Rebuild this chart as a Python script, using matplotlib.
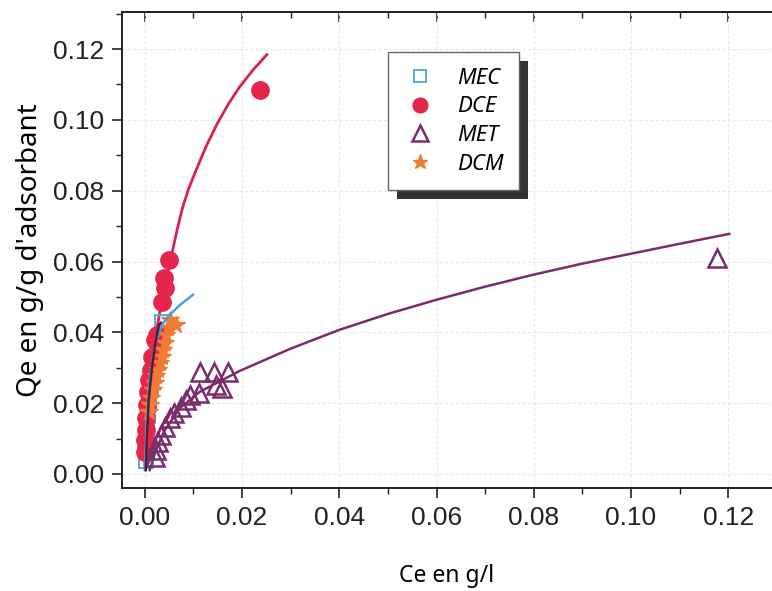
import matplotlib
matplotlib.use("Agg")
import matplotlib.pyplot as plt
from matplotlib.patches import Rectangle
from matplotlib.ticker import MultipleLocator

# MEC : carres bleus
mec_x = [0.0002, 0.0003, 0.0005, 0.0007, 0.0009, 0.0012, 0.0016, 0.0020, 0.0026, 0.0035]
mec_y = [0.0037, 0.0080, 0.0125, 0.0165, 0.0200, 0.0246, 0.0280, 0.0320, 0.0370, 0.0430]

# DCE : cercles rouges
dce_x = [0.0237, 0.0049, 0.0039, 0.0041, 0.0035, 0.0025, 0.0021, 0.0014, 0.0012, 0.0008,
         0.0006, 0.0004, 0.0002, 0.0002, 0.0000, 0.0002, 0.0000]
dce_y = [0.1085, 0.0605, 0.0554, 0.0525, 0.0486, 0.0393, 0.0379, 0.0331, 0.0294, 0.0266,
         0.0232, 0.0195, 0.0158, 0.0124, 0.0096, 0.0073, 0.0062]

# MET : triangles violets
met_x = [0.1177, 0.0171, 0.0142, 0.0113, 0.0158, 0.0146, 0.0111, 0.0093, 0.0084, 0.0074,
         0.0060, 0.0051, 0.0041, 0.0033, 0.0027, 0.0023, 0.0021]
met_y = [0.0610, 0.0288, 0.0288, 0.0288, 0.0243, 0.0251, 0.0229, 0.0223, 0.0209, 0.0189,
         0.0172, 0.0158, 0.0133, 0.0110, 0.0090, 0.0068, 0.0048]

# DCM : etoiles orange
dcm_x = [0.0064, 0.0051, 0.0047, 0.0043, 0.0041, 0.0037, 0.0035, 0.0031, 0.0027, 0.0023,
         0.0021, 0.0016, 0.0012, 0.0010, 0.0008]
dcm_y = [0.0420, 0.0435, 0.0412, 0.0393, 0.0370, 0.0350, 0.0331, 0.0314, 0.0294, 0.0277,
         0.0257, 0.0237, 0.0215, 0.0195, 0.0175]

# courbes de modele
dce_fit_x = [0.0000, 0.0002, 0.0006, 0.0014, 0.0031, 0.0044, 0.0056, 0.0067, 0.0078, 0.0090,
             0.0103, 0.0126, 0.0150, 0.0172, 0.0195, 0.0222, 0.0251]
dce_fit_y = [0.0025, 0.0096, 0.0210, 0.0320, 0.0460, 0.0548, 0.0624, 0.0693, 0.0754, 0.0805,
             0.0850, 0.0925, 0.0992, 0.1045, 0.1093, 0.1140, 0.1184]

mec_fit_x = [0.0000, 0.0004, 0.0010, 0.0021, 0.0035, 0.0051, 0.0072, 0.0099]
mec_fit_y = [0.0011, 0.0153, 0.0266, 0.0364, 0.0421, 0.0449, 0.0477, 0.0506]

met_fit_x = [0.0010, 0.0023, 0.0041, 0.0072, 0.0113, 0.0195, 0.0300, 0.0400, 0.0500, 0.0600,
             0.0700, 0.0800, 0.0900, 0.1000, 0.1100, 0.1202]
met_fit_y = [0.0011, 0.0068, 0.0124, 0.0186, 0.0232, 0.0291, 0.0354, 0.0407, 0.0452, 0.0492,
             0.0529, 0.0563, 0.0594, 0.0622, 0.0650, 0.0678]

dcm_fit_x = [0.0002, 0.0004, 0.0008, 0.0014, 0.0021, 0.0029, 0.0033]
dcm_fit_y = [0.0011, 0.0096, 0.0209, 0.0294, 0.0364, 0.0421, 0.0427]

c_mec = '#5aa8e2'
c_dce = '#e4264c'
c_met = '#7a2c6c'
c_dcm = '#f27a34'

fig = plt.figure(figsize=(7.72, 5.91), dpi=100)
ax = fig.add_axes([0.158, 0.174, 0.842, 0.806])

ax.grid(True, color='0.91', lw=0.8, ls=(0, (3, 2)), zorder=0)

ax.plot(mec_x, mec_y, 's', ms=9.5, mfc='none', mec=c_mec, mew=1.4, label='MEC', zorder=3)
ax.plot(dce_x, dce_y, 'o', ms=12.5, color=c_dce, mec=c_dce, label='DCE', zorder=3)
ax.plot(dcm_x, dcm_y, '*', ms=13, color=c_dcm, mec=c_dcm, label='DCM', zorder=3)
ax.plot(met_x, met_y, '^', ms=13, mfc='none', mec=c_met, mew=1.8, label='MET', zorder=4)

ax.plot(dce_fit_x, dce_fit_y, '-', color='#d8234f', lw=2, zorder=2)
ax.plot(mec_fit_x, mec_fit_y, '-', color='#4d9fe0', lw=1.8, zorder=4)
ax.plot(met_fit_x, met_fit_y, '-', color=c_met, lw=1.8, zorder=4)
ax.plot(dcm_fit_x, dcm_fit_y, '-', color='#4a2232', lw=1.8, zorder=4)

ax.set_xlim(-0.0047, 0.129)
ax.set_ylim(-0.004, 0.1305)
ax.xaxis.set_major_locator(MultipleLocator(0.02))
ax.xaxis.set_minor_locator(MultipleLocator(0.01))
ax.yaxis.set_major_locator(MultipleLocator(0.02))
ax.yaxis.set_minor_locator(MultipleLocator(0.01))
ax.xaxis.set_major_formatter(lambda v, p: f'{v:.2f}')
ax.yaxis.set_major_formatter(lambda v, p: f'{v:.2f}')

for s in ax.spines.values():
    s.set_linewidth(1.4)
    s.set_color('#222222')
ax.spines['right'].set_visible(False)

ax.tick_params(axis='both', which='major', direction='out', length=7, width=1.2,
               labelsize=19, pad=6, colors='#222222')
ax.tick_params(axis='both', which='minor', direction='out', length=4, width=1.0, colors='#222222')
plt.setp(ax.get_xticklabels() + ax.get_yticklabels(), family='Liberation Sans', color='#222222')

# graduations vers l'interieur en haut
top = ax.secondary_xaxis('top')
top.xaxis.set_major_locator(MultipleLocator(0.02))
top.xaxis.set_minor_locator(MultipleLocator(0.01))
top.tick_params(which='major', direction='in', length=7, width=1.2, labeltop=False, colors='#222222')
top.tick_params(which='minor', direction='in', length=4, width=1.0, colors='#222222')
top.spines['top'].set_linewidth(1.4)

ax.set_xlabel('Ce en g/l', fontsize=16.5, family='Noto Sans', labelpad=24)
ax.set_ylabel("Qe en g/g d'adsorbant", fontsize=20, family='Noto Sans', labelpad=6)

handles, labels = ax.get_legend_handles_labels()
order = [0, 1, 3, 2]
leg = ax.legend([handles[i] for i in order], [labels[i] for i in order],
                loc='upper left', bbox_to_anchor=(388 / 772, 1 - 52 / 591),
                bbox_transform=fig.transFigure, frameon=True, fancybox=False,
                framealpha=1, edgecolor='#666666', borderpad=0.7, labelspacing=0.35,
                handletextpad=0.9, handlelength=1.5, borderaxespad=0, markerscale=0.85,
                prop={'family': 'Noto Sans', 'style': 'italic', 'size': 16})
leg.get_frame().set_linewidth(1.0)
leg.set_zorder(6)

# ombre du cadre de legende
fig.canvas.draw()
bb = leg.get_window_extent().transformed(fig.transFigure.inverted())
shadow = Rectangle((bb.x0 + 9 / 772, bb.y0 - 9 / 591), bb.width, bb.height,
                   transform=fig.transFigure, facecolor='#333333', edgecolor='none',
                   zorder=5.5, clip_on=False)
ax.add_artist(shadow)

fig.savefig('out.png', dpi=100)
